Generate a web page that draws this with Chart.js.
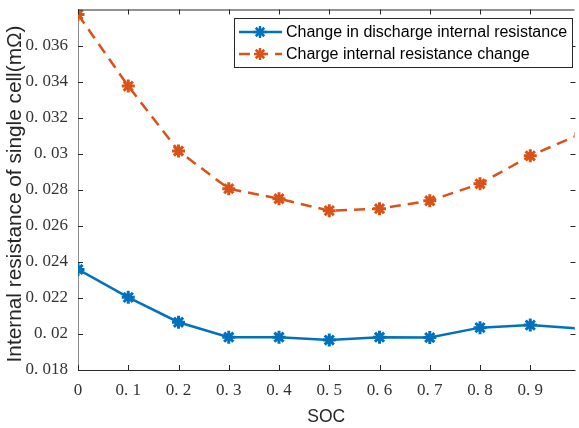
<!DOCTYPE html>
<html>
<head>
  <title>SOC internal resistance</title>
  <style>
    html, body { margin: 0; padding: 0; background: #fff; }
    #wrap { width: 579px; height: 428px; overflow: hidden; }
  </style>
  <script src="https://cdn.jsdelivr.net/npm/chart.js"></script>
</head>
<body>
  <!-- canvas a bit wider than the window: the original is cropped at the right -->
  <div id="wrap"><canvas id="chart" width="584" height="428"></canvas></div>

  <script>
    // SOC positions (the last one sits just past the cropped right edge)
    const soc = [0, 0.1, 0.2, 0.3, 0.4, 0.5, 0.6, 0.7, 0.8, 0.9, 1.0];
    const dischargeR = [0.02358, 0.02203, 0.02065, 0.01982, 0.01982, 0.01966, 0.01982, 0.0198, 0.02035, 0.02049, 0.0203];
    const chargeR = [0.03772, 0.03375, 0.03015, 0.02806, 0.0275, 0.02684, 0.02695, 0.02739, 0.02833, 0.02988, 0.0311];
    const seriesNames = ['Change in discharge internal resistance', 'Charge internal resistance change'];
    const xTicks = [0, 0.1, 0.2, 0.3, 0.4, 0.5, 0.6, 0.7, 0.8, 0.9];
    const yTicks = [0.018, 0.02, 0.022, 0.024, 0.026, 0.028, 0.03, 0.032, 0.034, 0.036];
    const yTitle = 'Internal resistance of single cell(mΩ)';

    const blue = '#0072BD';
    const orange = '#D95319';
    const axisColor = '#262626';
    const sans = '"Liberation Sans", Arial, sans-serif';
    const tickFont = { family: '"Liberation Serif", "DejaVu Serif", serif', size: 17 };

    // "0.036" -> "0. 036", like the wide-dot font in the original
    function fmt(v) {
      let s = String(parseFloat(v.toFixed(3)));
      return s.replace('.', '. ');
    }

    function toPoints(ys) {
      return soc.map((x, i) => ({ x: x, y: ys[i] }));
    }

    // inward ticks on all four sides, top border, y title and a boxed legend
    const matlabFrame = {
      id: 'matlabFrame',
      afterDraw(chart) {
        const ctx = chart.ctx;
        const a = chart.chartArea;
        const xs = chart.scales.x;
        const ys = chart.scales.y;
        ctx.save();
        ctx.strokeStyle = axisColor;
        ctx.lineWidth = 1;
        ctx.beginPath();
        ctx.moveTo(a.left, a.top + 0.5);
        ctx.lineTo(a.right, a.top + 0.5);
        xTicks.forEach(t => {
          const px = Math.round(xs.getPixelForValue(t)) + 0.5;
          ctx.moveTo(px, a.bottom);
          ctx.lineTo(px, a.bottom - 5);
          ctx.moveTo(px, a.top);
          ctx.lineTo(px, a.top + 5);
        });
        yTicks.forEach(t => {
          const py = Math.round(ys.getPixelForValue(t)) + 0.5;
          ctx.moveTo(a.left, py);
          ctx.lineTo(a.left + 5, py);
          ctx.moveTo(a.right + 1, py);
          ctx.lineTo(a.right - 4, py);
        });
        ctx.stroke();

        // y axis title
        ctx.save();
        ctx.translate(15, 194);
        ctx.rotate(-Math.PI / 2);
        ctx.fillStyle = axisColor;
        ctx.font = '20.8px ' + sans;
        ctx.textAlign = 'center';
        ctx.textBaseline = 'middle';
        ctx.fillText(yTitle, 0, 0);
        ctx.restore();

        // legend
        const lx = 234, ly = 18, lw = 338, lh = 49;
        ctx.fillStyle = '#fff';
        ctx.fillRect(lx, ly, lw, lh);
        ctx.strokeStyle = axisColor;
        ctx.strokeRect(lx + 0.5, ly + 0.5, lw, lh);
        ctx.font = '16px ' + sans;
        ctx.textBaseline = 'middle';
        chart.data.datasets.forEach((ds, i) => {
          const yy = ly + 14 + i * 22;
          ctx.strokeStyle = ds.borderColor;
          ctx.lineWidth = 2.5;
          ctx.setLineDash(ds.borderDash || []);
          ctx.beginPath();
          ctx.moveTo(239, yy);
          ctx.lineTo(282, yy);
          ctx.stroke();
          ctx.setLineDash([]);
          Chart.helpers.drawPoint(ctx, {
            pointStyle: 'star', radius: 6, borderWidth: 3
          }, 260, yy);
          ctx.fillStyle = '#000';
          ctx.fillText(ds.label, 286, yy + 1);
        });
        ctx.restore();
      }
    };

    new Chart(document.getElementById('chart'), {
      type: 'line',
      data: {
        datasets: [
          {
            label: seriesNames[0],
            data: toPoints(dischargeR),
            borderColor: blue,
            backgroundColor: blue,
            borderWidth: 2.5,
            pointStyle: 'star',
            pointRadius: 6.5,
            pointBorderWidth: 3,
            tension: 0
          },
          {
            label: seriesNames[1],
            data: toPoints(chargeR),
            borderColor: orange,
            backgroundColor: orange,
            borderWidth: 2.5,
            borderDash: [11, 7],
            pointStyle: 'star',
            pointRadius: 6.5,
            pointBorderWidth: 3,
            tension: 0
          }
        ]
      },
      options: {
        responsive: false,
        animation: false,
        layout: { padding: { top: 8, right: 0, left: 0, bottom: 0 } },
        plugins: {
          legend: { display: false },
          tooltip: { enabled: false }
        },
        scales: {
          x: {
            type: 'linear',
            min: 0,
            max: 0.988,
            afterBuildTicks: s => { s.ticks = xTicks.map(v => ({ value: v })); },
            afterFit: s => { s.height = 58; s.paddingLeft = 0; s.paddingRight = 0; },
            grid: { display: false, drawTicks: false },
            border: { color: axisColor, width: 1 },
            ticks: {
              color: '#333',
              font: tickFont,
              padding: 10,
              maxRotation: 0,
              callback: v => (v === 0 ? '0' : fmt(v))
            },
            title: {
              display: true,
              text: 'SOC',
              color: axisColor,
              font: { family: sans, size: 17.5 },
              padding: { top: 2, bottom: 0 }
            }
          },
          y: {
            min: 0.018,
            max: 0.038,
            afterBuildTicks: s => { s.ticks = yTicks.map(v => ({ value: v })); },
            afterFit: s => { s.width = 78; s.paddingTop = 0; s.paddingBottom = 0; },
            grid: { display: false, drawTicks: false },
            border: { color: '#8c8c8c', width: 1 },
            ticks: {
              color: '#333',
              font: tickFont,
              padding: 10,
              callback: v => fmt(v)
            }
          }
        }
      },
      plugins: [matlabFrame]
    });
  </script>
</body>
</html>
